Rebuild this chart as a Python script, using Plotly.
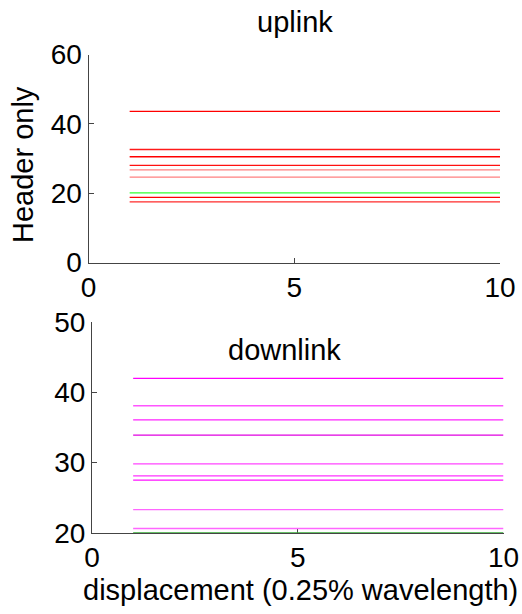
import plotly.graph_objects as go

# displacement steps (0.25% wavelength)
displacement = [1, 2, 3, 4, 5, 6, 7, 8, 9, 10]

# uplink "Header only" levels (each series is flat across displacement)
uplink_levels = [43.6, 32.6, 30.5, 28.0, 26.7, 24.6, 20.1, 18.8, 17.5]
uplink_colors = ["#ff0000", "#ff1a1a", "#ff0000", "#ff1010", "#ff8080",
                 "#ff8080", "#33ff33", "#ff0000", "#ff2a2a"]

# downlink levels
downlink_levels = [42.0, 38.1, 36.1, 33.9, 29.8, 28.1, 27.5, 23.3, 20.6, 20.0]
downlink_colors = ["#ff00ff", "#ff55ff", "#ff22ff", "#e000e0", "#ff44ff",
                   "#ff33ff", "#ff11ff", "#ff66ff", "#ff66ff", "#33aa33"]

up_xticks = [0, 5, 10]
up_yticks = [0, 20, 40, 60]
dn_xticks = [0, 5, 10]
dn_yticks = [20, 30, 40, 50]

FONT = "Liberation Sans, Arial, sans-serif"
W, H = 522, 614

fig = go.Figure()
for lvl, col in zip(uplink_levels, uplink_colors):
    fig.add_trace(go.Scatter(x=displacement, y=[lvl] * len(displacement),
                             mode="lines", line=dict(color=col, width=1.3),
                             xaxis="x", yaxis="y", showlegend=False))
for lvl, col in zip(downlink_levels, downlink_colors):
    fig.add_trace(go.Scatter(x=displacement, y=[lvl] * len(displacement),
                             mode="lines", line=dict(color=col, width=1.6 if col == "#33aa33" else 1.3),
                             xaxis="x2", yaxis="y2", showlegend=False))

axis_common = dict(showline=True, linecolor="#444", linewidth=1, ticks="inside",
                   ticklen=5, tickcolor="#444", showgrid=False, zeroline=False,
                   tickfont=dict(family=FONT, size=28, color="black"),
                   layer="below traces", automargin=False)

up_dom_x = [88.5 / W, 500 / W]
up_dom_y = [1 - 262.5 / H, 1 - 54.5 / H]
dn_dom_x = [92 / W, 503.5 / W]
dn_dom_y = [1 - 532.7 / H, 1 - 322.3 / H]

fig.update_layout(
    width=W, height=H,
    margin=dict(l=0, r=0, t=0, b=0),
    paper_bgcolor="white", plot_bgcolor="white",
    font=dict(family=FONT, size=28, color="black"),
    xaxis=dict(domain=up_dom_x, range=[0, 10], tickvals=up_xticks, anchor="y", **axis_common),
    yaxis=dict(domain=up_dom_y, range=[0, 60], tickvals=up_yticks, anchor="x", **axis_common),
    xaxis2=dict(domain=dn_dom_x, range=[0, 10], tickvals=dn_xticks, anchor="y2", **axis_common),
    yaxis2=dict(domain=dn_dom_y, range=[20, 50], tickvals=dn_yticks, anchor="x2", **axis_common),
    annotations=[
        dict(text="uplink", x=295 / W, y=1 - 22 / H, xref="paper", yref="paper",
             showarrow=False, xanchor="center", yanchor="middle",
             font=dict(family=FONT, size=29)),
        dict(text="downlink", x=284 / W, y=1 - 350 / H, xref="paper", yref="paper",
             showarrow=False, xanchor="center", yanchor="middle",
             font=dict(family=FONT, size=29)),
        dict(text="Header only", x=23 / W, y=1 - 165 / H, xref="paper", yref="paper",
             showarrow=False, xanchor="center", yanchor="middle", textangle=-90,
             font=dict(family=FONT, size=29)),
        dict(text="displacement (0.25% wavelength)", x=300 / W, y=1 - 590 / H,
             xref="paper", yref="paper", showarrow=False, xanchor="center",
             yanchor="middle", font=dict(family=FONT, size=29)),
    ],
)

fig.write_html("out.html", config={"displayModeBar": False},
               post_script="document.body.style.margin='0px';document.body.style.overflow='hidden';")
